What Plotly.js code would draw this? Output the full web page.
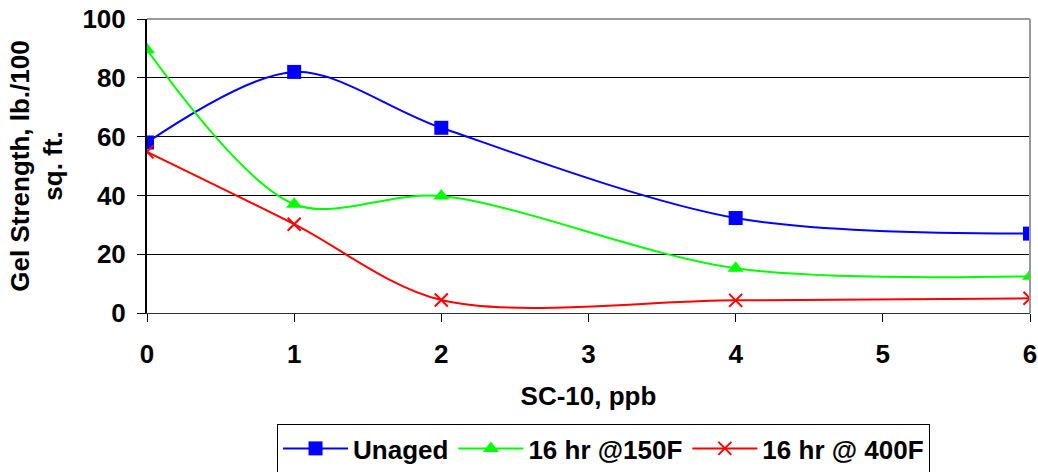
<!DOCTYPE html>
<html><head><meta charset="utf-8">
<script src="https://cdn.plot.ly/plotly-3.0.1.min.js"></script>
<style>html,body{margin:0;padding:0;background:#fff}#c{width:1038px;height:472px}</style>
</head><body><div id="c"></div>
<script>
const xVals = [0, 1, 2, 4, 6];
const unaged = [58, 82, 63, 32.3, 27];
const hr150 = [89.5, 37, 39.8, 15.2, 12.5];
const hr400 = [54.8, 30.2, 4.4, 4.3, 5];
const names = ["Unaged", "16 hr @150F", "16 hr @ 400F"];
const xTicks = [0, 1, 2, 3, 4, 5, 6];
const yTicks = [0, 20, 40, 60, 80, 100];

const F = "Liberation Sans, Arial, sans-serif";
function tr(y, name, color, sym, size) {
  return {x: xVals, y: y, name: name, type: 'scatter', mode: 'lines+markers',
    line: {color: color, width: 2, shape: 'spline', smoothing: 0.9},
    marker: {symbol: sym, size: size, color: color, line: {color: color, width: sym === 'x-thin' ? 2 : 0}}};
}
const data = [
  tr(unaged, names[0], '#0000ff', 'square', 14),
  tr(hr150, names[1], '#00ff00', 'triangle-up', 14),
  tr(hr400, names[2], '#ff0000', 'x-thin', 13)
];
const layout = {
  width: 1038, height: 472,
  margin: {l: 147, r: 8, t: 19, b: 159},
  paper_bgcolor: '#fff', plot_bgcolor: '#fff',
  font: {family: F, color: '#000', size: 26, weight: 'bold'},
  showlegend: true,
  legend: {orientation: 'h', xref: 'container', yref: 'container', x: 0.2669, y: 0.1017,
    xanchor: 'left', yanchor: 'top',
    bordercolor: '#000', borderwidth: 1, font: {family: F, size: 26, weight: 'bold'},
    itemwidth: 65, tracegroupgap: 0},
  xaxis: {range: [0, 6], tickvals: xTicks, ticktext: xTicks.map(String), ticks: 'outside', ticklen: 8,
    tickcolor: '#000', showline: true, linecolor: '#333', linewidth: 1, showgrid: false, zeroline: false,
    ticklabelstandoff: 10, automargin: false,
    tickfont: {family: F, size: 26, weight: 'bold'},
    title: {text: 'SC-10, ppb', font: {family: F, size: 26, weight: 'bold'}, standoff: 18}},
  yaxis: {range: [0, 100], tickvals: yTicks, ticks: 'outside', ticklen: 8, tickcolor: '#000',
    showline: true, linecolor: '#000', linewidth: 2, showgrid: true, gridcolor: '#000', gridwidth: 1,
    ticklabelstandoff: 6, automargin: false,
    zeroline: false, tickfont: {family: F, size: 26, weight: 'bold'},
    title: {text: 'Gel Strength, lb./100<br>sq. ft.', font: {family: F, size: 26, weight: 'bold'}, standoff: 12}},
  shapes: [
    {type: 'line', xref: 'paper', yref: 'paper', x0: 0, x1: 1, y0: 1, y1: 1, line: {color: '#999', width: 2}},
    {type: 'line', xref: 'paper', yref: 'paper', x0: 1, x1: 1, y0: 0, y1: 1, line: {color: '#999', width: 2}}
  ]
};
Plotly.newPlot('c', data, layout, {displayModeBar: false});
</script></body></html>
